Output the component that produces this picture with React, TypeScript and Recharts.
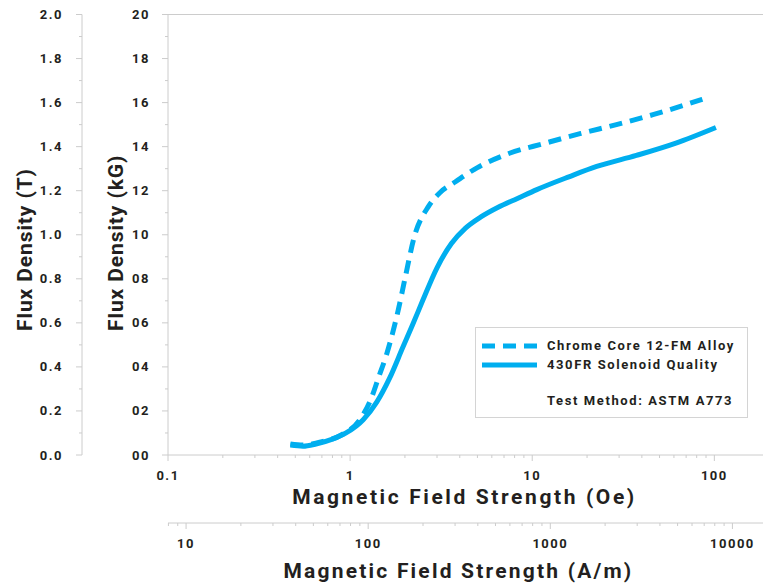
import { LineChart, Line, XAxis, YAxis, ReferenceLine, Legend } from "recharts";

if (typeof document !== "undefined") {
  document.body.style.margin = "0";
  document.body.style.overflow = "hidden";
}

// 1 Oe = 79.577 A/m
const AM_PER_OE = 79.577;

// Chrome Core 12-FM Alloy (dashed)
const CHROME_H = [0.47, 0.55, 0.7, 0.9, 1.13, 1.31, 1.43, 1.59, 1.84, 2.0, 2.25, 2.7, 3.1, 3.7, 5.0, 7.5, 11.7, 18.5, 29, 46, 86];
const CHROME_B = [0.5, 0.45, 0.6, 0.92, 1.6, 2.6, 3.5, 4.6, 6.6, 8.0, 9.9, 11.3, 11.9, 12.35, 13.05, 13.7, 14.15, 14.6, 15.0, 15.45, 16.15];

// 430FR Solenoid Quality (solid)
const SOLENOID_H = [0.47, 0.55, 0.65, 0.8, 0.95, 1.18, 1.4, 1.65, 1.95, 2.2, 2.5, 3.0, 3.6, 4.3, 5.2, 6.5, 8.3, 10.6, 15.9, 22.6, 37.3, 61.5, 102];
const SOLENOID_B = [0.45, 0.4, 0.5, 0.72, 1.0, 1.6, 2.4, 3.5, 4.9, 5.9, 7.0, 8.5, 9.6, 10.3, 10.8, 11.25, 11.65, 12.05, 12.63, 13.1, 13.6, 14.16, 14.87];

const OE_MAJOR = [0.1, 1, 10, 100];
const OE_MINOR = [0.2, 0.3, 0.4, 0.5, 0.6, 0.7, 0.8, 0.9, 2, 3, 4, 5, 6, 7, 8, 9, 20, 30, 40, 50, 60, 70, 80, 90];
const AM_MAJOR = [10, 100, 1000, 10000];
const AM_MINOR = [8, 9, 20, 30, 40, 50, 60, 70, 80, 90, 200, 300, 400, 500, 600, 700, 800, 900, 2000, 3000, 4000, 5000, 6000, 7000, 8000, 9000];
const KG_TICKS = [0, 1, 2, 3, 4, 5, 6, 7, 8, 9, 10, 11, 12, 13, 14, 15, 16, 17, 18, 19, 20];
const T_TICKS = [0, 0.1, 0.2, 0.3, 0.4, 0.5, 0.6, 0.7, 0.8, 0.9, 1.0, 1.1, 1.2, 1.3, 1.4, 1.5, 1.6, 1.7, 1.8, 1.9, 2.0];

const OE_DOMAIN = [0.1, 185];
const AM_DOMAIN = [OE_DOMAIN[0] * AM_PER_OE, OE_DOMAIN[1] * AM_PER_OE];

const BLUE = "#00aeef";
const AXIS = "#cccccc";
const INK = "#231f20";
const FONT = "Roboto, 'DejaVu Sans', sans-serif";

const SERIES = [
  { name: "Chrome Core 12-FM Alloy", h: CHROME_H, b: CHROME_B, dash: "13 8" },
  { name: "430FR Solenoid Quality", h: SOLENOID_H, b: SOLENOID_B, dash: undefined },
];

const isIn = (list: number[], v: number) => list.some((m) => Math.abs(m - v) / m < 1e-6);

const makeXTick = (major: number[]) => (props: any) => {
  const { x, y, payload } = props;
  const big = isIn(major, payload.value);
  return (
    <g>
      <line x1={x} x2={x} y1={y} y2={y + (big ? 6 : 3)} stroke={AXIS} />
      {big && (
        <text x={x} y={y + 20} textAnchor="middle" dominantBaseline="central"
          fill={INK} fontFamily={FONT} fontWeight={700} fontSize={13} letterSpacing={1.5}>
          {String(payload.value)}
        </text>
      )}
    </g>
  );
};

const makeYTick = (isMajor: (v: number) => boolean, fmt: (v: number) => string, gap: number) => (props: any) => {
  const { x, y, payload } = props;
  const big = isMajor(payload.value);
  return (
    <g>
      <line x1={x - (big ? 6 : 3)} x2={x} y1={y} y2={y} stroke={AXIS} />
      {big && (
        <text x={x - gap} y={y} textAnchor="end" dominantBaseline="central"
          fill={INK} fontFamily={FONT} fontWeight={700} fontSize={13} letterSpacing={1.5}>
          {fmt(payload.value)}
        </text>
      )}
    </g>
  );
};

// rotated title: baseline at viewBox.x + dx, text starts at y = 331
const yTitle = (text: string, dx: number) => (props: any) => {
  const vb = props.viewBox;
  const cx = vb.x + dx;
  const cy = 331;
  return (
    <text x={cx} y={cy} transform={`rotate(-90 ${cx} ${cy})`} textAnchor="start"
      fill={INK} fontFamily={FONT} fontWeight={700} fontSize={21} letterSpacing={0.9}>
      {text}
    </text>
  );
};

const xTitle = (text: string, dy: number, dx: number, spacing: number) => (props: any) => {
  const vb = props.viewBox;
  return (
    <text x={vb.x + vb.width / 2 + dx} y={vb.y + dy} textAnchor="middle" dominantBaseline="central"
      fill={INK} fontFamily={FONT} fontWeight={700} fontSize={21} letterSpacing={spacing}>
      {text}
    </text>
  );
};

function LegendBox() {
  const row = { display: "flex", alignItems: "center", height: 19 } as const;
  return (
    <div style={{ border: "1px solid #d4d4d4", background: "#fff", width: 273, height: 91, boxSizing: "border-box",
      padding: "8px 0 0 6px", fontFamily: FONT, fontWeight: 700, fontSize: 13, letterSpacing: 1.6, color: INK }}>
      {SERIES.map((s) => (
        <div key={s.name} style={row}>
          <svg width={55} height={8} style={{ marginRight: 10 }}>
            <line x1={0} x2={55} y1={4} y2={4} stroke={BLUE} strokeWidth={5} strokeDasharray={s.dash} />
          </svg>
          <span>{s.name}</span>
        </div>
      ))}
      <div style={{ ...row, marginTop: 17, paddingLeft: 65 }}>Test Method: ASTM A773</div>
    </div>
  );
}

export default function App() {
  return (
    <LineChart width={763} height={584} margin={{ top: 14.5, right: 0, bottom: 0, left: 0 }}>
      <XAxis xAxisId="a_oe" dataKey="h" type="number" scale="log" domain={OE_DOMAIN} allowDataOverflow
        ticks={[...OE_MAJOR, ...OE_MINOR].sort((a, b) => a - b)} interval={0} height={68}
        tickSize={0} tickMargin={0} axisLine={{ stroke: AXIS }} tickLine={false}
        tick={makeXTick(OE_MAJOR)} label={xTitle("Magnetic Field Strength (Oe)", 42, -1, 2.6)} />
      <XAxis xAxisId="b_am" dataKey="am" type="number" scale="log" domain={AM_DOMAIN} allowDataOverflow
        ticks={[...AM_MAJOR, ...AM_MINOR].sort((a, b) => a - b)} interval={0} height={61}
        tickSize={0} tickMargin={0} axisLine={{ stroke: AXIS }} tickLine={false}
        tick={makeXTick(AM_MAJOR)} label={xTitle("Magnetic Field Strength (A/m)", 48, -7, 2.2)} />
      <YAxis yAxisId="a_kg" type="number" domain={[0, 20]} allowDataOverflow ticks={KG_TICKS} interval={0}
        width={86} tickSize={0} tickMargin={0} axisLine={{ stroke: AXIS }} tickLine={false}
        tick={makeYTick((v) => v % 2 === 0, (v) => String(v).padStart(2, "0"), 18)}
        label={yTitle("Flux Density (kG)", 41)} />
      <YAxis yAxisId="b_t" type="number" domain={[0, 2]} allowDataOverflow ticks={T_TICKS} interval={0}
        width={82} tickSize={0} tickMargin={0} axisLine={{ stroke: AXIS }} tickLine={false}
        tick={makeYTick((v) => Math.round(v * 10) % 2 === 0, (v) => v.toFixed(1), 19)}
        label={yTitle("Flux Density (T)", 32)} />
      <ReferenceLine xAxisId="a_oe" yAxisId="a_kg" y={20} stroke={AXIS} />
      {/* invisible copy on the A/m and tesla axes so both secondary axes get data */}
      <Line xAxisId="b_am" yAxisId="b_t" type="monotone" legendType="none"
        data={SOLENOID_H.map((h, i) => ({ am: h * AM_PER_OE, t: SOLENOID_B[i] / 10 }))} dataKey="t"
        stroke="none" dot={false} activeDot={false} isAnimationActive={false} />
      {SERIES.map((s) => (
        <Line key={s.name} xAxisId="a_oe" yAxisId="a_kg" name={s.name} type="monotone"
          data={s.h.map((h, i) => ({ h, b: s.b[i] }))} dataKey="b"
          stroke={BLUE} strokeWidth={5} strokeDasharray={s.dash} dot={false}
          activeDot={false} isAnimationActive={false} />
      ))}
      <Legend layout="vertical" align="center" verticalAlign="middle" content={() => <LegendBox />}
        wrapperStyle={{ left: 475, top: 327, width: 273, height: 91 }} />
    </LineChart>
  );
}
